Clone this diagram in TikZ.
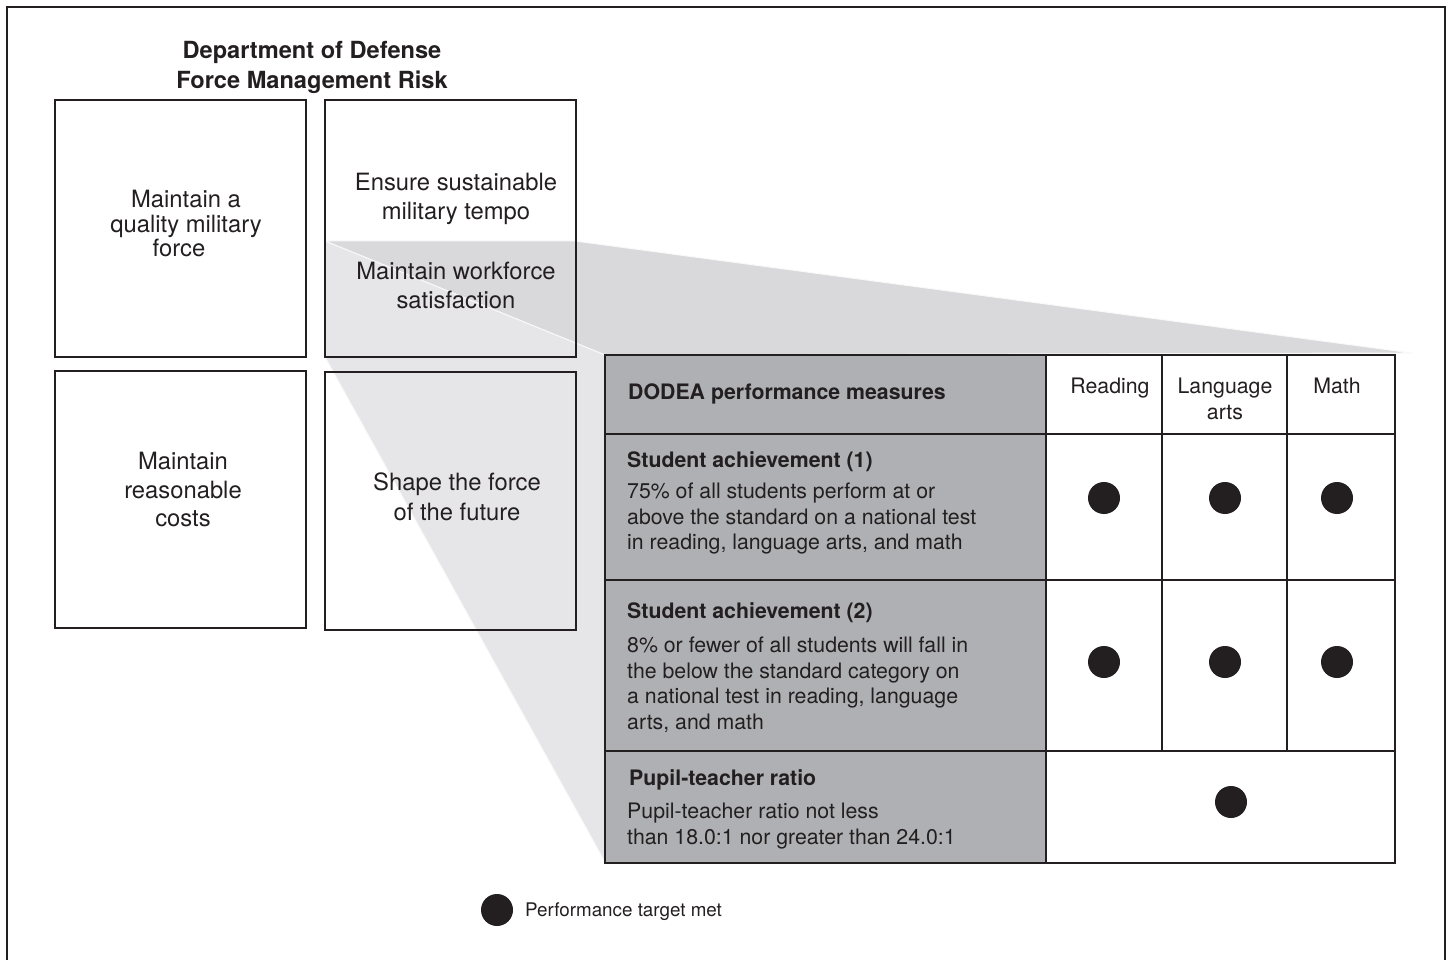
\documentclass[tikz,border=0pt]{standalone}
\usepackage{fontspec}
\setmainfont{TeX Gyre Heros}

\definecolor{ink}{HTML}{231F20}
\definecolor{topface}{HTML}{D9D9DB}
\definecolor{sideface}{HTML}{E6E6E8}
\definecolor{measgray}{HTML}{AFB0B3}

\newcommand{\bigtxt}{\fontsize{23.8}{29}\selectfont}
\newcommand{\celltxt}{\fontsize{21.3}{25.5}\selectfont}

\begin{document}
\begin{tikzpicture}[x=1pt, y=-1pt,
    every node/.style={inner sep=0pt, text=ink},
    title/.style={align=center, font=\fontsize{23.6}{30}\selectfont\bfseries},
    goal/.style={align=center, font=\bigtxt},
    measure/.style={anchor=west, font=\celltxt\bfseries},
    detail/.style={anchor=west, align=left, font=\celltxt},
    colhead/.style={anchor=north, align=center, font=\celltxt},
    hit/.style={circle, fill=ink, minimum size=32pt}]
  \useasboundingbox (0,0) rectangle (1449,960);

  % frame, open at the bottom
  \draw[ink, line width=2.5] (7,975) |- (1445,7) -- (1445,975);

  % zoom fan from the satisfaction box to the table
  \filldraw[fill=topface, draw=white!85!topface, line width=1]
    (325,241) -- (575,241) -- (1412,353) -- (605,355) -- cycle;
  \filldraw[fill=sideface, draw=white!70!sideface, line width=1]
    (325,241) -- (605,355) -- (605,862) -- (325,357) -- cycle;

  % risk quadrants
  \draw[ink, line width=2] (55,100) rectangle (306,357);
  \draw[ink, line width=2] (325,100) rectangle (576,357);
  \draw[ink, line width=2] (55,371) rectangle (306,628);
  \draw[ink, line width=2] (325,372) rectangle (576,630);

  \node[title] (dod) at (312,67) {Department of Defense\\Force Management Risk};
  \node[goal, font=\fontsize{23.8}{24.5}\selectfont] (quality) at (186,224)
    {Maintain a\\quality military\\force\hspace*{14pt}};
  \node[goal] (tempo) at (456,198.5) {Ensure sustainable\\military tempo};
  \node[goal] (satisf) at (456,285) {Maintain workforce\\satisfaction};
  \node[goal, font=\fontsize{23.8}{28.5}\selectfont] (costs) at (183,490)
    {Maintain\\reasonable\\costs};
  \node[goal, font=\fontsize{23.8}{30}\selectfont] (future) at (457,497)
    {Shape the force\\of the future};

  % measures table
  \fill[measgray] (605,355) rectangle (1046,863);
  \fill[white] (1046,355) rectangle (1395,863);
  \foreach \y in {434,580,751}
    \draw[ink, line width=2] (605,\y) -- (1395,\y);
  \foreach \x in {1162,1287}
    \draw[ink, line width=1.5] (\x,355) -- (\x,751);
  \draw[ink, line width=2] (1046,355) -- (1046,863);
  \draw[ink, line width=2.5] (605,355) rectangle (1395,863);

  \node[measure] (dodea) at (628,394) {DODEA performance measures};
  \node[colhead] (read) at (1110,378) {Reading};
  \node[colhead] (lang) at (1225,378) {Language\\arts};
  \node[colhead] (math) at (1337,378) {Math};

  \node[measure] (sa1) at (627,462) {Student achievement (1)};
  \node[detail] (sa1txt) at (627,519)
    {75\% of all students perform at or\\above the standard on a national test\\in reading, language arts, and math};
  \node[measure] (sa2) at (627,613) {Student achievement (2)};
  \node[detail] (sa2txt) at (627,685)
    {8\% or fewer of all students will fall in\\the below the standard category on\\a national test in reading, language\\arts, and math};
  \node[measure] (ptr) at (629,780) {Pupil-teacher ratio};
  \node[detail] (ptrtxt) at (627,826)
    {Pupil-teacher ratio not less\\than 18.0:1 nor greater than 24.0:1};

  \foreach \x [count=\i] in {1104,1225,1337} {
    \node[hit] (sa1hit\i) at (\x,498) {};
    \node[hit] (sa2hit\i) at (\x,662) {};
  }
  \node[hit] (ptrhit) at (1231,802) {};

  % legend
  \node[hit] (key) at (497,910) {};
  \node[anchor=west, font=\fontsize{18.8}{22}\selectfont] (keytxt) at (525,912)
    {Performance target met};
\end{tikzpicture}
\end{document}
